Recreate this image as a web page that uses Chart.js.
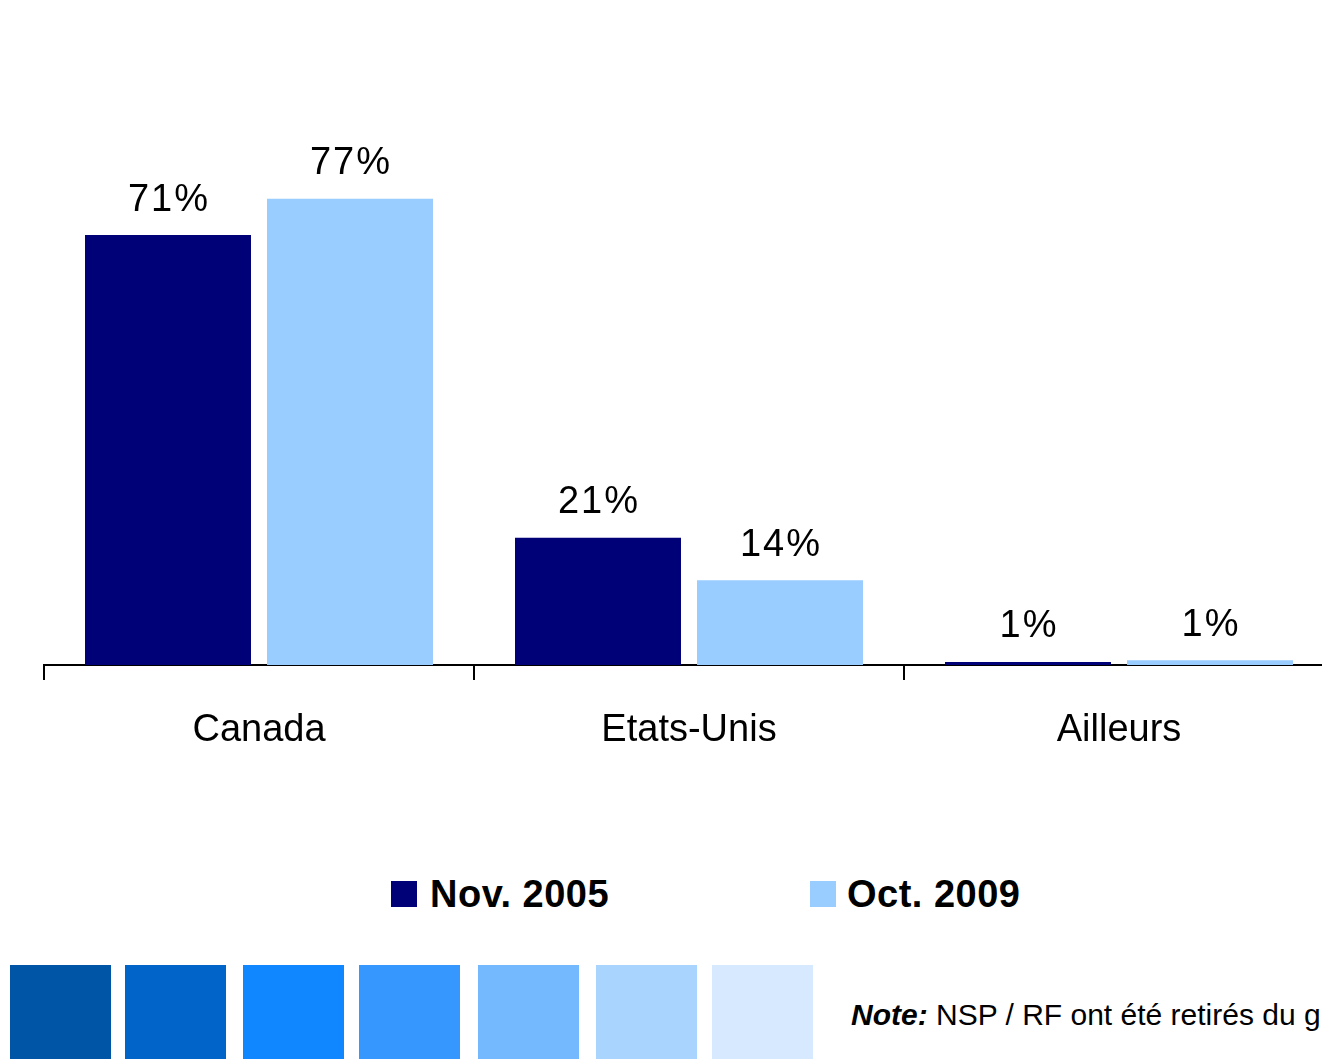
<!DOCTYPE html>
<html>
<head>
<meta charset="utf-8">
<script src="https://cdn.jsdelivr.net/npm/chart.js@4/dist/chart.umd.min.js"></script>
<style>
  html, body { margin:0; padding:0; background:#fff; overflow:hidden; width:1322px; height:1059px; }
  body { position:relative; font-family:"Liberation Sans", Arial, Helvetica, sans-serif; }
  #wrap { position:absolute; left:0; top:0; width:1340px; height:760px; }
  .lg-box { position:absolute; width:26px; height:26px; }
  .lg-txt { position:absolute; font-weight:bold; font-size:38px; line-height:38px; letter-spacing:0.5px; color:#000; white-space:nowrap; }
  .sq { position:absolute; top:965px; width:101px; height:100px; }
  #note { position:absolute; left:851px; top:1000px; font-size:30px; line-height:30px; color:#000; white-space:nowrap; }
</style>
</head>
<body>
<div id="wrap"><canvas id="c" width="1340" height="760"></canvas></div>
<div id="legend"></div>
<div id="squares"></div>
<div id="note"><b><i>Note:</i></b> NSP / RF ont été retirés du graphique</div>
<script>
const categories = ["Canada", "Etats-Unis", "Ailleurs"];
const seriesNames = ["Nov. 2005", "Oct. 2009"];
const nov2005 = [71, 21, 0.5];
const oct2009 = [77, 14, 0.8];
const seriesColors = ["#000077", "#99CCFF"];
const paletteColors = ["#0055A6", "#0064C9", "#1086FF", "#3698FF", "#74B8FE", "#A8D4FE", "#D6E9FE"];

// legend (HTML)
const legendEl = document.getElementById('legend');
const legendPos = [{box:391, txt:430}, {box:810, txt:847}];
seriesNames.forEach((n, i) => {
  const b = document.createElement('div');
  b.className = 'lg-box';
  b.style.left = legendPos[i].box + 'px';
  b.style.top = '881px';
  b.style.background = seriesColors[i];
  legendEl.appendChild(b);
  const t = document.createElement('div');
  t.className = 'lg-txt';
  t.style.left = legendPos[i].txt + 'px';
  t.style.top = '875px';
  t.textContent = n;
  legendEl.appendChild(t);
});

// decorative squares
const sqEl = document.getElementById('squares');
const sqLeft = [10, 125, 243, 359, 478, 596, 712];
paletteColors.forEach((c, i) => {
  const d = document.createElement('div');
  d.className = 'sq';
  d.style.left = sqLeft[i] + 'px';
  d.style.background = c;
  sqEl.appendChild(d);
});

const FONT = '"Liberation Sans", Arial, Helvetica, sans-serif';

const valueLabels = {
  id: 'valueLabels',
  afterDatasetsDraw(chart) {
    const ctx = chart.ctx;
    ctx.save();
    ctx.font = '38px ' + FONT;
    try { ctx.letterSpacing = '2px'; } catch (e) {}
    ctx.fillStyle = '#000';
    ctx.textAlign = 'center';
    ctx.textBaseline = 'middle';
    chart.data.datasets.forEach((ds, di) => {
      chart.getDatasetMeta(di).data.forEach((bar, i) => {
        ctx.fillText(Math.round(ds.data[i]) + '%', bar.x + 1, bar.y - 35);
      });
    });
    ctx.restore();
  }
};

new Chart(document.getElementById('c'), {
  type: 'bar',
  data: {
    labels: categories,
    datasets: [
      { label: seriesNames[0], data: nov2005, backgroundColor: seriesColors[0] },
      { label: seriesNames[1], data: oct2009, backgroundColor: seriesColors[1] }
    ]
  },
  options: {
    responsive: false,
    animation: false,
    devicePixelRatio: 1,
    categoryPercentage: 0.8465,
    barPercentage: 0.912,
    layout: { padding: { top: 59.4, left: 44, right: 6, bottom: 0 } },
    plugins: { legend: { display: false }, tooltip: { enabled: false } },
    scales: {
      x: {
        afterFit(scale) { scale.height = 95; },
        border: { display: true, color: '#000', width: 2 },
        grid: { display: true, drawOnChartArea: false, drawTicks: true, tickLength: 15, color: '#000', lineWidth: 2, offset: true },
        ticks: { color: '#000', font: { family: FONT, size: 38 }, padding: 28, maxRotation: 0 }
      },
      y: { display: false, min: 0, max: 100 }
    }
  },
  plugins: [valueLabels]
});
</script>
</body>
</html>
